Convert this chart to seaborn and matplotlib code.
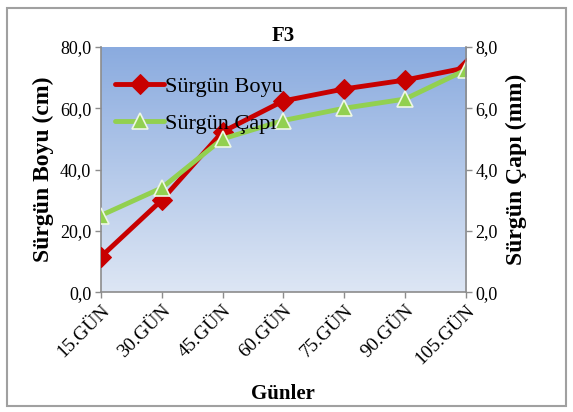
import numpy as np
import pandas as pd
import matplotlib
import matplotlib.pyplot as plt
import seaborn as sns

matplotlib.use("Agg")

days = ["15.GÜN", "30.GÜN", "45.GÜN", "60.GÜN", "75.GÜN", "90.GÜN", "105.GÜN"]
boy = [11.5, 30.0, 52.3, 62.4, 66.3, 69.2, 73.2]      # Sürgün Boyu (cm)
cap = [2.5, 3.4, 5.0, 5.6, 6.0, 6.3, 7.25]            # Sürgün Çapı (mm)

sns.set_style("white")
plt.rcParams["font.family"] = ["Liberation Serif", "DejaVu Serif"]
plt.rcParams.update({"text.color": "black", "axes.labelcolor": "black",
                     "xtick.color": "black", "ytick.color": "black"})

RED = "#c80000"
GREEN = "#92d050"
GRAY = "#8c8c8c"

df = pd.DataFrame({"day": days, "pos": range(len(days)), "boy": boy, "cap": cap})

fig = plt.figure(figsize=(5.73, 4.12), dpi=100)
ax = fig.add_axes([0.176, 0.291, 0.637, 0.595])
ax2 = ax.twinx()

# gradient background
grad = np.linspace(0, 1, 256).reshape(-1, 1)
cmap = matplotlib.colors.LinearSegmentedColormap.from_list("bg", ["#dde6f4", "#8aabdf"])
ax.imshow(grad, cmap=cmap, aspect="auto", extent=[0, 1, 0, 1],
          transform=ax.transAxes, origin="lower", zorder=0)

sns.lineplot(data=df, x="pos", y="boy", ax=ax, color=RED, linewidth=3.5,
             marker="D", markersize=10, markeredgecolor=RED, label="Sürgün Boyu",
             legend=False, zorder=3)
sns.lineplot(data=df, x="pos", y="cap", ax=ax2, color=GREEN, linewidth=3.5,
             marker="^", markersize=12, markeredgecolor="#eef7e4", markeredgewidth=1.2,
             label="Sürgün Çapı", legend=False, zorder=2)

ax.set_xlim(0, 6)
ax.set_ylim(0, 80)
ax2.set_ylim(0, 8)
ax.set_yticks(np.arange(0, 81, 20))
ax2.set_yticks(np.arange(0, 8.1, 2))
ax.set_yticklabels([f"{v:.1f}".replace(".", ",") for v in np.arange(0, 81, 20)], fontsize=13)
ax2.set_yticklabels([f"{v:.1f}".replace(".", ",") for v in np.arange(0, 8.1, 2)], fontsize=13)
ax.set_xticks(range(len(days)))
ax.set_xticklabels(days, rotation=45, ha="right", rotation_mode="anchor", fontsize=14)

for a in (ax, ax2):
    for s in a.spines.values():
        s.set_visible(False)
ax.spines["left"].set_visible(True)
ax.spines["bottom"].set_visible(True)
ax2.spines["right"].set_visible(True)
for s in (ax.spines["left"], ax.spines["bottom"], ax2.spines["right"]):
    s.set_color(GRAY)
    s.set_linewidth(1.2)
ax.tick_params(axis="both", direction="out", length=4, color=GRAY, width=1, pad=3,
               left=True, bottom=True)
ax2.tick_params(axis="y", direction="out", length=4, color=GRAY, width=1, pad=3, right=True)

ax.set_xlabel("Günler", fontsize=15, fontweight="bold", labelpad=12)
ax.set_ylabel("Sürgün Boyu (cm)", fontsize=17, fontweight="bold", labelpad=4)
ax2.set_ylabel("Sürgün Çapı (mm)", fontsize=17, fontweight="bold", labelpad=6)
ax.set_title("F3", fontsize=15, fontweight="bold", pad=4)

h1, l1 = ax.get_legend_handles_labels()
h2, l2 = ax2.get_legend_handles_labels()
ax2.legend(h1 + h2, l1 + l2, loc="upper left", bbox_to_anchor=(0.0, 0.94),
           frameon=False, fontsize=16, handlelength=2.2, handletextpad=0.05,
           borderaxespad=0.25, labelspacing=0.75)

# outer frame
fig.patches.append(matplotlib.patches.Rectangle(
    (0.012, 0.015), 0.975, 0.965, transform=fig.transFigure, fill=False,
    edgecolor="#a0a0a0", linewidth=1.5))

fig.savefig("out.png", dpi=100)
